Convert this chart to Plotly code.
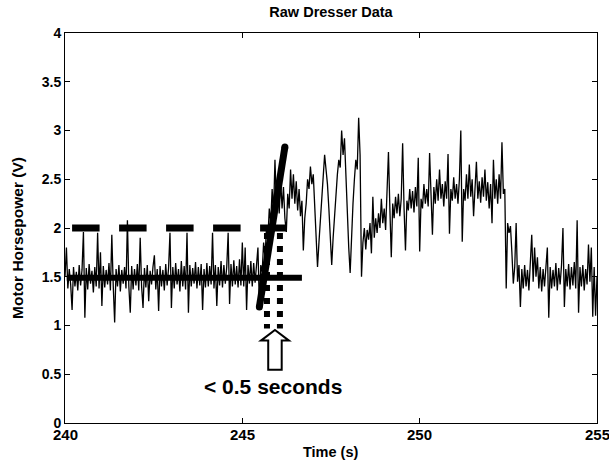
import numpy as np
import plotly.graph_objects as go

# ---- data ----
t_start = 240.0
t_step = 0.04
horsepower = [
    1.50, 1.80, 1.38, 1.58, 1.42, 1.16, 1.60, 1.40, 1.55, 1.36,
    1.62, 1.41, 1.57, 1.96, 1.08, 1.59, 1.37, 1.63, 1.43, 1.56,
    1.34, 1.60, 1.40, 1.95, 1.38, 1.75, 1.20, 1.61, 1.39, 1.57,
    1.42, 1.64, 1.36, 1.93, 1.41, 1.03, 1.58, 1.40, 1.62, 1.35,
    1.57, 1.43, 1.60, 1.38, 2.08, 1.40, 1.13, 1.61, 1.37, 1.58,
    1.41, 1.63, 1.36, 1.90, 1.40, 1.18, 1.59, 1.39, 1.62, 1.25,
    1.56, 1.42, 1.60, 1.72, 1.37, 1.58, 1.15, 1.61, 1.40, 1.57,
    1.36, 1.63, 1.41, 1.59, 1.95, 1.18, 1.60, 1.38, 1.64, 1.42,
    1.58, 1.35, 1.66, 1.40, 1.61, 1.37, 1.95, 1.13, 1.62, 1.40,
    1.59, 1.43, 1.65, 1.38, 1.60, 1.41, 1.63, 1.16, 1.58, 1.39,
    1.64, 1.40, 1.61, 1.42, 1.95, 1.38, 1.62, 1.20, 1.60, 1.41,
    1.66, 1.39, 1.62, 1.43, 1.60, 1.95, 1.22, 1.63, 1.40, 1.67,
    1.42, 1.61, 1.39, 1.68, 1.41, 1.85, 1.40, 1.80, 1.16, 1.62,
    1.43, 1.66, 1.40, 1.64, 1.44, 1.68, 1.80, 1.20, 1.62, 1.55,
    1.85, 1.70, 2.00, 1.90, 2.20, 2.05, 2.40, 2.15, 2.70, 2.25,
    2.45, 2.15, 2.50, 2.20, 2.42, 2.10, 1.96, 2.35, 2.20, 2.60,
    2.30, 2.55, 2.25, 2.48, 2.18, 2.40, 2.12, 2.28, 1.77, 2.10,
    2.25, 2.50, 2.40, 2.63, 2.45, 2.55, 2.20, 1.90, 1.60, 1.85,
    2.10, 2.35, 2.55, 2.75, 2.60, 2.45, 2.20, 1.95, 1.62, 1.90,
    2.15, 2.40, 2.55, 2.70, 2.62, 3.00, 2.75, 2.92, 2.50, 2.10,
    1.80, 1.54, 1.95, 2.25, 2.50, 2.70, 2.60, 3.13, 2.75, 1.50,
    1.85, 2.00, 1.78, 1.98, 1.88, 2.05, 1.74, 2.32, 1.90, 2.10,
    1.95, 2.15, 2.00, 2.30, 2.05, 2.20, 1.98, 2.35, 2.78, 2.20,
    1.70, 2.25, 2.10, 2.32, 2.15, 2.35, 2.12, 2.30, 2.87, 2.20,
    1.77, 2.28, 2.18, 2.40, 2.20, 2.38, 2.16, 2.42, 2.22, 2.72,
    1.76, 2.30, 2.20, 2.45, 2.25, 2.40, 2.22, 2.77, 2.30, 1.93,
    2.42, 2.25, 2.50, 2.28, 2.60, 2.30, 2.45, 2.22, 2.48, 2.30,
    2.76, 1.94, 2.40, 2.28, 2.52, 2.30, 2.45, 2.25, 2.50, 3.00,
    1.86, 2.40, 2.28, 2.55, 2.30, 2.65, 2.32, 2.50, 2.12, 2.45,
    2.68, 2.30, 2.48, 2.26, 2.52, 2.32, 2.60, 2.28, 2.47, 2.20,
    2.45, 2.05, 2.70, 2.30, 2.50, 2.25, 2.55, 2.30, 2.88, 2.35,
    2.40, 1.38, 2.05, 1.95, 2.02, 1.75, 1.43, 1.60, 2.05, 1.45,
    1.62, 1.19, 1.58, 1.38, 1.62, 1.40, 1.57, 1.36, 1.65, 1.93,
    1.45, 1.80, 1.50, 1.70, 1.38, 1.60, 1.35, 1.58, 1.40, 1.63,
    1.80, 1.08, 1.60, 1.38, 1.57, 1.40, 1.64, 1.36, 1.59, 1.42,
    1.62, 2.00, 1.19, 1.58, 1.40, 1.63, 1.37, 1.60, 1.41, 1.65,
    1.38, 2.08, 1.13, 1.60, 1.40, 1.62, 1.36, 1.58, 1.42, 1.83,
    1.45, 1.80, 1.09, 1.60, 1.10, 1.50,
]
time_s = np.round(t_start + t_step * np.arange(len(horsepower)), 3)

x_ticks = [240, 245, 250, 255]
x_tick_labels = ["240", "245", "250", "255"]
y_ticks = [0, 0.5, 1, 1.5, 2, 2.5, 3, 3.5, 4]
y_tick_labels = ["0", "0.5", "1", "1.5", "2", "2.5", "3", "3.5", "4"]

# annotation geometry (data units)
threshold_level = 2.0
threshold_span = [240.2, 246.23]
baseline_level = 1.49
baseline_span = [240.05, 246.68]
slope_x = [245.48, 246.20]
slope_y = [1.19, 2.83]
marker_lines_x = [245.695, 246.06]
marker_lines_y = [1.95, 0.97]
arrow = dict(tip=(245.92, 0.955), head_half=0.395, shaft_half=0.19,
             head_base=0.845, bottom=0.545)
label_pos = (245.86, 0.37)

FONT = "Liberation Sans, Arial, Helvetica, sans-serif"

fig = go.Figure()
fig.add_trace(go.Scatter(x=time_s, y=horsepower, mode="lines",
                         line=dict(color="black", width=1.3),
                         showlegend=False, hoverinfo="skip"))

# steep slope line (rounded ends via markers)
fig.add_trace(go.Scatter(x=slope_x, y=slope_y, mode="lines+markers",
                         line=dict(color="black", width=7),
                         marker=dict(color="black", size=7),
                         showlegend=False, hoverinfo="skip"))

shapes = [
    dict(type="line", xref="x", yref="y", x0=threshold_span[0], x1=threshold_span[1],
         y0=threshold_level, y1=threshold_level,
         line=dict(color="black", width=7, dash="27.5px,19.5px")),
    dict(type="line", xref="x", yref="y", x0=baseline_span[0], x1=baseline_span[1],
         y0=baseline_level, y1=baseline_level,
         line=dict(color="black", width=6)),
]
for mx in marker_lines_x:
    shapes.append(dict(type="line", xref="x", yref="y", x0=mx, x1=mx,
                       y0=marker_lines_y[0], y1=marker_lines_y[1],
                       line=dict(color="black", width=6, dash="6px,7px")))

tx, ty = arrow["tip"]
hh, sh = arrow["head_half"], arrow["shaft_half"]
hb, bt = arrow["head_base"], arrow["bottom"]
path = (f"M {tx - sh},{bt} L {tx - sh},{hb} L {tx - hh},{hb} L {tx},{ty} "
        f"L {tx + hh},{hb} L {tx + sh},{hb} L {tx + sh},{bt} Z")
shapes.append(dict(type="path", xref="x", yref="y", path=path,
                   fillcolor="white", line=dict(color="black", width=2)))

annotations = [
    dict(text="< 0.5 seconds", x=label_pos[0], y=label_pos[1], xref="x", yref="y",
         showarrow=False, font=dict(family=FONT, size=21, color="black", weight="bold"),
         xanchor="center", yanchor="middle"),
    dict(text="Time (s)", x=0.5, y=-0.074, xref="paper", yref="paper",
         showarrow=False, font=dict(family=FONT, size=14.5, color="black", weight="bold"),
         xanchor="center", yanchor="middle"),
    dict(text="Motor Horsepower (V)", x=-0.088, y=0.475, xref="paper", yref="paper",
         showarrow=False, textangle=-90,
         font=dict(family=FONT, size=15.5, color="black", weight="bold"),
         xanchor="center", yanchor="middle"),
]
# x tick labels as text (so the last one may run off the edge, as in the original)
for v, lab in zip(x_ticks, x_tick_labels):
    annotations.append(dict(text=lab, x=v, xref="x", y=-0.03, yref="paper",
                            showarrow=False, xanchor="center", yanchor="middle",
                            font=dict(family=FONT, size=15, color="black", weight="bold")))

axis_common = dict(showgrid=False, zeroline=False, showline=True, linecolor="black",
                   linewidth=1, mirror="ticks", ticks="inside", ticklen=5,
                   tickcolor="black", tickwidth=1, automargin=False)

fig.update_layout(
    width=609, height=462,
    margin=dict(l=65, r=12, t=33, b=39, autoexpand=False),
    paper_bgcolor="white", plot_bgcolor="white",
    title=dict(text="Raw Dresser Data", x=0.5, xref="paper", xanchor="center",
               y=1 - 12 / 462, yref="container", yanchor="middle",
               font=dict(family=FONT, size=14.5, color="black", weight="bold")),
    xaxis=dict(range=[240, 255], tickvals=x_ticks, showticklabels=False,
               **axis_common),
    yaxis=dict(range=[0, 4], tickvals=y_ticks, ticktext=y_tick_labels,
               tickfont=dict(family=FONT, size=14, color="black", weight="bold"),
               **axis_common),
    shapes=shapes,
    annotations=annotations,
    showlegend=False,
)

fig.write_html("out.html", config={"displayModeBar": False},
               post_script="document.body.style.margin='0px';")
